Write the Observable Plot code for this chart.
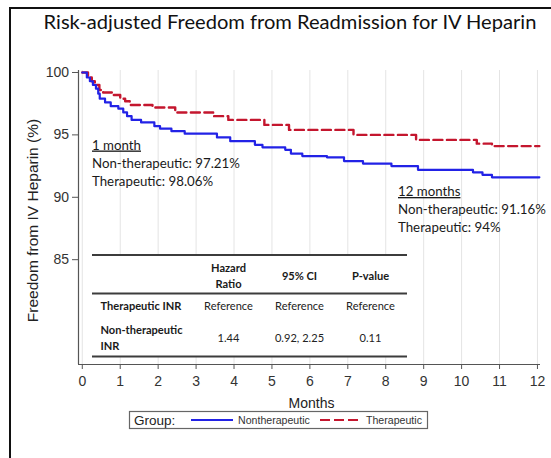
<!DOCTYPE html>
<html>
<head>
<meta charset="utf-8">
<script src="https://cdn.jsdelivr.net/npm/d3@7"></script>
<script src="https://cdn.jsdelivr.net/npm/@observablehq/plot@0.6"></script>
<style>
  body { margin: 0; background: #fff; }
  #wrap { position: relative; width: 551px; height: 458px; overflow: hidden; background: #fff; }
  #wrap > svg { position: absolute; left: 0; top: 0; }
</style>
</head>
<body>
<div id="wrap"></div>
<script>
// ---------- data ----------
const titleText = "Risk-adjusted Freedom from Readmission for IV Heparin";
const xLabel = "Months";
const yLabel = "Freedom from IV Heparin (%)";
const groupNames = ["Nontherapeutic", "Therapeutic"];
const xTickValues = [0, 1, 2, 3, 4, 5, 6, 7, 8, 9, 10, 11, 12];
const yTickValues = [85, 90, 95, 100];

const monthsNon = [0, 0.12, 0.2, 0.28, 0.36, 0.42, 0.46, 0.6, 0.75, 0.95, 1.08, 1.18, 1.3, 1.55, 1.9, 2.05, 2.35, 2.7,
  3.55, 3.9, 4.55, 4.75, 5.35, 5.5, 5.8, 6.45, 6.9, 7.4, 8.15, 8.85, 10.3, 10.55, 10.8, 12.05];
const freedomNon = [100, 99.6, 99.3, 99.0, 98.7, 98.3, 97.9, 97.6, 97.3, 97.1, 96.8, 96.5, 96.2, 96.0, 95.7, 95.5, 95.3, 95.1,
  94.8, 94.5, 94.2, 94.0, 93.8, 93.5, 93.3, 93.2, 92.9, 92.7, 92.5, 92.2, 92.0, 91.8, 91.6, 91.6];

const monthsTher = [0, 0.15, 0.25, 0.33, 0.45, 0.55, 0.8, 1.0, 1.13, 1.25, 1.85, 2.45, 3.45, 3.85, 4.8, 5.45, 7.15,
  8.8, 10.4, 10.8, 12.05];
const freedomTher = [100, 99.6, 99.3, 99.0, 98.6, 98.4, 98.2, 97.9, 97.7, 97.4, 97.2, 96.8, 96.5, 96.2, 95.8, 95.4, 95.0,
  94.6, 94.3, 94.1, 94.1];

const note1 = ["1 month", "Non-therapeutic: 97.21%", "Therapeutic: 98.06%"];
const note12 = ["12 months", "Non-therapeutic: 91.16%", "Therapeutic: 94%"];

const tableHeader = [["Hazard", "Ratio"], ["95% CI"], ["P-value"]];
const tableRowLabels = [["Therapeutic INR"], ["Non-therapeutic", "INR"]];
const tableValues = [["Reference", "Reference", "Reference"], ["1.44", "0.92, 2.25", "0.11"]];

const legendTitle = "Group:";

// ---------- build ----------
const nonData = monthsNon.map((m, i) => ({month: m, freedom: freedomNon[i], group: groupNames[0]}));
const therData = monthsTher.map((m, i) => ({month: m, freedom: freedomTher[i], group: groupNames[1]}));

const blue = "#2222e6";
const red = "#c4162e";
const xDomain = [-0.1, 12.08];
const yDomain = [76.6, 100.16];
const axisFont = "'Liberation Sans', Arial, sans-serif";
const noteFont = "Lato, 'Open Sans', sans-serif";

const chart = Plot.plot({
  width: 551,
  height: 458,
  marginLeft: 78,
  marginRight: 11,
  marginTop: 70,
  marginBottom: 94,
  style: {fontFamily: axisFont, fontSize: "14px", color: "#333", background: "transparent", overflow: "visible"},
  x: {domain: xDomain},
  y: {domain: yDomain},
  marks: [
    Plot.ruleX(xTickValues, {stroke: "#e4e4e4", strokeWidth: 1}),
    Plot.axisX({ticks: xTickValues, tickSize: 5, tickPadding: 6.5, label: null, stroke: "#555", fontSize: 14, fill: "#333"}),
    Plot.axisY({ticks: yTickValues, tickSize: 6, tickPadding: 3.5, label: null, stroke: "#555", fontSize: 14, fill: "#333"}),
    Plot.ruleX([xDomain[0]], {stroke: "#555", strokeWidth: 1.2}),
    Plot.ruleY([yDomain[0]], {stroke: "#555", strokeWidth: 1.2}),
    Plot.text([xLabel], {frameAnchor: "bottom", dy: 39.5, dx: 2, lineAnchor: "middle", fontSize: 14, fill: "#222"}),
    Plot.text([yLabel], {frameAnchor: "left", dx: -45, dy: 3, rotate: -90, textAnchor: "middle", lineAnchor: "middle", fontSize: 15.5, fill: "#222"}),
    Plot.lineY(therData, {x: "month", y: "freedom", curve: "step-after", stroke: red, strokeWidth: 2.4, strokeDasharray: "9,4.5"}),
    Plot.lineY(nonData, {x: "month", y: "freedom", curve: "step-after", stroke: blue, strokeWidth: 2.2})
  ]
});
document.getElementById("wrap").appendChild(chart);

// ---------- overlay (title, notes, table, legend, border) ----------
const ctx = document.createElement("canvas").getContext("2d");
function fitSize(text, family, weight, target) {
  ctx.font = `${weight} 100px ${family}`;
  return 100 * target / ctx.measureText(text).width;
}

const ov = d3.select("#wrap").append("svg").attr("width", 551).attr("height", 458);

// border
ov.append("path").attr("d", "M10,458V8H551").attr("fill", "none").attr("stroke", "#111").attr("stroke-width", 2);

// title
const titleSize = fitSize(titleText, noteFont, 400, 494);
ov.append("text").attr("x", 290).attr("y", 28.5).attr("text-anchor", "middle")
  .attr("font-family", noteFont).attr("font-size", titleSize).attr("fill", "#111").text(titleText);

// notes
const noteSize = fitSize(note1[1], noteFont, 400, 148);
function note(lines, x, y0) {
  lines.forEach((t, i) => {
    const el = ov.append("text").attr("x", x).attr("y", y0 + i * 18)
      .attr("font-family", noteFont).attr("font-size", noteSize).attr("fill", "#1a1a1a").text(t);
    if (i === 0) el.attr("text-decoration", "underline");
  });
}
note(note1, 92, 149.5);
note(note12, 398, 196);

// table
const tbl = ov.append("g");
tbl.append("rect").attr("x", 92).attr("y", 255).attr("width", 315).attr("height", 102).attr("fill", "#fff");
[255, 293.5, 356.5].forEach(y => tbl.append("line").attr("x1", 92).attr("x2", 407).attr("y1", y).attr("y2", y)
  .attr("stroke", "#3c3c3c").attr("stroke-width", 2));
const tblSize = fitSize(tableRowLabels[0][0], noteFont, 700, 81);
const colX = [228.5, 299.5, 370.5];
tableHeader.forEach((lines, c) => {
  const ys = lines.length === 2 ? [272, 287.5] : [280];
  lines.forEach((t, k) => tbl.append("text").attr("x", colX[c]).attr("y", ys[k]).attr("text-anchor", "middle")
    .attr("font-family", noteFont).attr("font-weight", 700).attr("font-size", tblSize).attr("fill", "#1a1a1a").text(t));
});
const rowLabelY = [[309.5], [334, 350]];
const rowValY = [309.5, 341.5];
tableRowLabels.forEach((lines, r) => {
  lines.forEach((t, k) => tbl.append("text").attr("x", 100.5).attr("y", rowLabelY[r][k])
    .attr("font-family", noteFont).attr("font-weight", 700).attr("font-size", tblSize).attr("fill", "#1a1a1a").text(t));
  tableValues[r].forEach((t, c) => tbl.append("text").attr("x", colX[c]).attr("y", rowValY[r]).attr("text-anchor", "middle")
    .attr("font-family", noteFont).attr("font-size", tblSize).attr("fill", "#222").text(t));
});

// legend
const lg = ov.append("g");
lg.append("rect").attr("x", 129.5).attr("y", 411.5).attr("width", 298).attr("height", 17)
  .attr("fill", "#fff").attr("stroke", "#666").attr("stroke-width", 1.2);
lg.append("text").attr("x", 134).attr("y", 424.8).attr("font-family", axisFont).attr("font-size", 13.5).attr("fill", "#222").text(legendTitle);
lg.append("line").attr("x1", 191).attr("x2", 233).attr("y1", 420).attr("y2", 420).attr("stroke", blue).attr("stroke-width", 2);
lg.append("text").attr("x", 238).attr("y", 423.8).attr("font-family", axisFont).attr("font-size", 10.6).attr("fill", "#333").text(groupNames[0]);
lg.append("line").attr("x1", 320).attr("x2", 358).attr("y1", 420).attr("y2", 420).attr("stroke", red).attr("stroke-width", 2)
  .attr("stroke-dasharray", "10,4");
lg.append("text").attr("x", 366).attr("y", 423.8).attr("font-family", axisFont).attr("font-size", 10.6).attr("fill", "#333").text(groupNames[1]);
</script>
</body>
</html>
